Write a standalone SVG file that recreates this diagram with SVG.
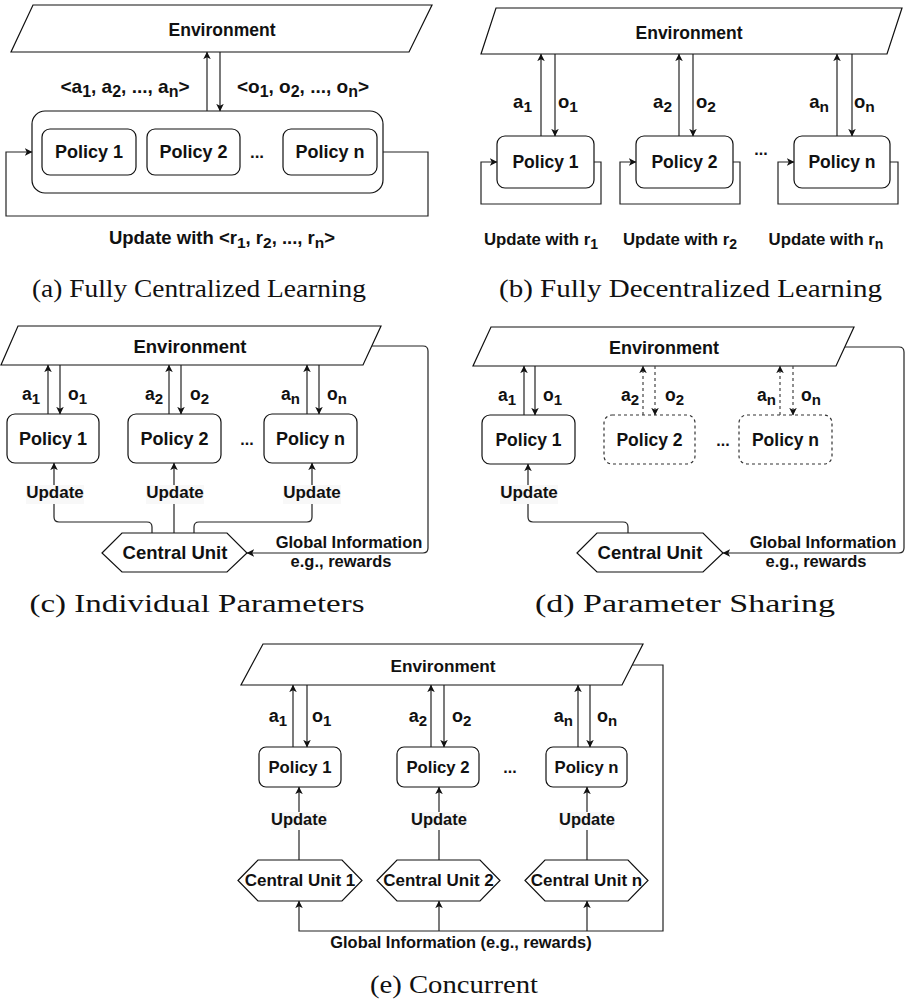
<svg xmlns="http://www.w3.org/2000/svg" width="912" height="1001" viewBox="0 0 912 1001">
<defs>
<marker id="arr" viewBox="0 0 10 10" refX="9.5" refY="5" markerWidth="8" markerHeight="7.5" markerUnits="userSpaceOnUse" orient="auto">
<path d="M0,0 L10,5 L0,10 L2.5,5 z" fill="#111"/>
</marker>
<style>
.shape{fill:#fff;stroke:#111;stroke-width:1.2}
.dash{fill:#fff;stroke:#333;stroke-width:1.2;stroke-dasharray:3 3}
.ln{fill:none;stroke:#222;stroke-width:1.2}
.dl{fill:none;stroke:#444;stroke-width:1.2;stroke-dasharray:3 3}
.t{font-family:"Liberation Sans",Arial,sans-serif;font-weight:bold;fill:#111;text-anchor:middle}
.tl{font-family:"Liberation Sans",Arial,sans-serif;font-weight:bold;fill:#111}
.cap{font-family:"Liberation Serif","Times New Roman",serif;fill:#111;text-anchor:middle;font-size:25px}
.bg{fill:#f8f8f8}
</style>
</defs>
<rect width="912" height="1001" fill="#fff"/>

<!-- ===== Panel (a) ===== -->
<g id="a-env"><polygon class="shape" points="33,5 432,5 409,52 11,52"/><text class="t" x="222" y="36" font-size="17.5">Environment</text></g>
<g id="a-group"><rect class="shape" x="32" y="111" width="351" height="82" rx="13"/></g>
<g id="a-p1"><rect class="shape" x="42" y="129" width="94" height="46" rx="8"/><text class="t" x="89" y="158" font-size="18">Policy 1</text></g>
<g id="a-p2"><rect class="shape" x="147" y="129" width="93" height="46" rx="8"/><text class="t" x="193.5" y="158" font-size="18">Policy 2</text></g>
<text class="t" x="257" y="158" font-size="17">...</text>
<g id="a-pn"><rect class="shape" x="283" y="129" width="94" height="46" rx="8"/><text class="t" x="330" y="158" font-size="18">Policy n</text></g>
<g id="a-conn">
<line class="ln" x1="207" y1="111" x2="207" y2="52" marker-end="url(#arr)"/>
<line class="ln" x1="220" y1="52" x2="220" y2="111" marker-end="url(#arr)"/>
<path class="ln" d="M383,152 H428 V216 H6 V152 H32" marker-end="url(#arr)"/>
</g>
<text class="t" x="125" y="93" font-size="19">&lt;a<tspan font-size="16" dy="3.5">1</tspan><tspan dy="-3.5">, a</tspan><tspan font-size="16" dy="3.5">2</tspan><tspan dy="-3.5">, ..., a</tspan><tspan font-size="16" dy="3.5">n</tspan><tspan dy="-3.5">&gt;</tspan></text>
<text class="t" x="303" y="93" font-size="19">&lt;o<tspan font-size="16" dy="3.5">1</tspan><tspan dy="-3.5">, o</tspan><tspan font-size="16" dy="3.5">2</tspan><tspan dy="-3.5">, ..., o</tspan><tspan font-size="16" dy="3.5">n</tspan><tspan dy="-3.5">&gt;</tspan></text>
<text class="t" x="222" y="244" font-size="18.5">Update with &lt;r<tspan font-size="15.5" dy="3.5">1</tspan><tspan dy="-3.5">, r</tspan><tspan font-size="15.5" dy="3.5">2</tspan><tspan dy="-3.5">, ..., r</tspan><tspan font-size="15.5" dy="3.5">n</tspan><tspan dy="-3.5">&gt;</tspan></text>
<text class="cap" x="199" y="297" textLength="334" lengthAdjust="spacingAndGlyphs">(a) Fully Centralized Learning</text>

<!-- ===== Panel (b) ===== -->
<g id="b-env"><polygon class="shape" points="496,8 902,8 887,54 481,54"/><text class="t" x="689" y="39" font-size="17.5">Environment</text></g>
<g id="b-p1"><rect class="shape" x="497" y="136" width="97" height="52" rx="8"/><text class="t" x="545.5" y="168" font-size="17.5">Policy 1</text></g>
<g id="b-p2"><rect class="shape" x="636" y="136" width="97" height="52" rx="8"/><text class="t" x="684.5" y="168" font-size="17.5">Policy 2</text></g>
<text class="t" x="761" y="155" font-size="16">...</text>
<g id="b-pn"><rect class="shape" x="794" y="136" width="96" height="52" rx="8"/><text class="t" x="842" y="168" font-size="17.5">Policy n</text></g>
<g id="b-conn">
<line class="ln" x1="541" y1="136" x2="541" y2="54" marker-end="url(#arr)"/>
<line class="ln" x1="555" y1="54" x2="555" y2="136" marker-end="url(#arr)"/>
<line class="ln" x1="679" y1="136" x2="679" y2="54" marker-end="url(#arr)"/>
<line class="ln" x1="693" y1="54" x2="693" y2="136" marker-end="url(#arr)"/>
<line class="ln" x1="837" y1="136" x2="837" y2="54" marker-end="url(#arr)"/>
<line class="ln" x1="852" y1="54" x2="852" y2="136" marker-end="url(#arr)"/>
<path class="ln" d="M594,162 H601 V204 H481 V162 H497" marker-end="url(#arr)"/>
<path class="ln" d="M733,162 H740 V204 H620 V162 H636" marker-end="url(#arr)"/>
<path class="ln" d="M890,162 H898 V204 H778 V162 H794" marker-end="url(#arr)"/>
</g>
<text class="tl" x="532" y="108" font-size="18.5" text-anchor="end">a<tspan font-size="15.5" dy="3.5">1</tspan></text>
<text class="tl" x="558" y="108" font-size="18.5">o<tspan font-size="15.5" dy="3.5">1</tspan></text>
<text class="tl" x="672" y="108" font-size="18.5" text-anchor="end">a<tspan font-size="15.5" dy="3.5">2</tspan></text>
<text class="tl" x="696" y="108" font-size="18.5">o<tspan font-size="15.5" dy="3.5">2</tspan></text>
<text class="tl" x="829" y="108" font-size="18.5" text-anchor="end">a<tspan font-size="15.5" dy="3.5">n</tspan></text>
<text class="tl" x="854" y="108" font-size="18.5">o<tspan font-size="15.5" dy="3.5">n</tspan></text>
<text class="t" x="541" y="245" font-size="16.8">Update with r<tspan font-size="14" dy="3.5">1</tspan></text>
<text class="t" x="680" y="245" font-size="16.8">Update with r<tspan font-size="14" dy="3.5">2</tspan></text>
<text class="t" x="826" y="245" font-size="16.8">Update with r<tspan font-size="14" dy="3.5">n</tspan></text>
<text class="cap" x="690.5" y="297" textLength="383" lengthAdjust="spacingAndGlyphs">(b) Fully Decentralized Learning</text>

<!-- ===== Panel (c) ===== -->
<g id="c-env"><polygon class="shape" points="18,326 381,326 363,365 1,365"/><text class="t" x="190" y="353" font-size="18.5">Environment</text></g>
<g id="c-p1"><rect class="shape" x="7" y="414" width="92" height="49" rx="8"/><text class="t" x="53" y="445" font-size="18">Policy 1</text></g>
<g id="c-p2"><rect class="shape" x="128" y="414" width="93" height="49" rx="8"/><text class="t" x="174.5" y="445" font-size="18">Policy 2</text></g>
<text class="t" x="247" y="445" font-size="16">...</text>
<g id="c-pn"><rect class="shape" x="264" y="414" width="93" height="49" rx="8"/><text class="t" x="310.5" y="445" font-size="18">Policy n</text></g>
<g id="c-cu"><polygon class="shape" points="102,553 122,533 227,533 247,553 227,572 122,572"/><text class="t" x="175" y="559" font-size="18.5">Central Unit</text></g>
<g id="c-conn">
<line class="ln" x1="48" y1="414" x2="48" y2="365" marker-end="url(#arr)"/>
<line class="ln" x1="60" y1="365" x2="60" y2="414" marker-end="url(#arr)"/>
<line class="ln" x1="169" y1="414" x2="169" y2="365" marker-end="url(#arr)"/>
<line class="ln" x1="181" y1="365" x2="181" y2="414" marker-end="url(#arr)"/>
<line class="ln" x1="307" y1="414" x2="307" y2="365" marker-end="url(#arr)"/>
<line class="ln" x1="319" y1="365" x2="319" y2="414" marker-end="url(#arr)"/>
<path class="ln" d="M152,533 V527 Q152,522 147,522 H59 Q54,522 54,517 V463" marker-end="url(#arr)"/>
<line class="ln" x1="174" y1="533" x2="174" y2="463" marker-end="url(#arr)"/>
<path class="ln" d="M194,533 V527 Q194,522 199,522 H307 Q312,522 312,517 V463" marker-end="url(#arr)"/>
<path class="ln" d="M372,346 H423 Q428,346 428,351 V548 Q428,553 423,553 H247" marker-end="url(#arr)"/>
</g>
<rect class="bg" x="26" y="485" width="58" height="19"/><text class="t" x="55" y="498" font-size="17">Update</text>
<rect class="bg" x="146" y="485" width="58" height="19"/><text class="t" x="175" y="498" font-size="17">Update</text>
<rect class="bg" x="283" y="485" width="58" height="19"/><text class="t" x="312" y="498" font-size="17">Update</text>
<text class="tl" x="40" y="400" font-size="17.5" text-anchor="end">a<tspan font-size="15" dy="3.5">1</tspan></text>
<text class="tl" x="68" y="400" font-size="17.5">o<tspan font-size="15" dy="3.5">1</tspan></text>
<text class="tl" x="163" y="400" font-size="17.5" text-anchor="end">a<tspan font-size="15" dy="3.5">2</tspan></text>
<text class="tl" x="190" y="400" font-size="17.5">o<tspan font-size="15" dy="3.5">2</tspan></text>
<text class="tl" x="300" y="400" font-size="17.5" text-anchor="end">a<tspan font-size="15" dy="3.5">n</tspan></text>
<text class="tl" x="327" y="400" font-size="17.5">o<tspan font-size="15" dy="3.5">n</tspan></text>
<text class="t" x="349" y="548" font-size="16.5">Global Information</text>
<text class="t" x="341" y="567" font-size="16.5">e.g., rewards</text>
<text class="cap" x="197" y="612" textLength="335" lengthAdjust="spacingAndGlyphs">(c) Individual Parameters</text>

<!-- ===== Panel (d) ===== -->
<g id="d-env"><polygon class="shape" points="491,327 854,327 836,366 473,366"/><text class="t" x="664" y="354" font-size="18">Environment</text></g>
<g id="d-p1"><rect class="shape" x="482" y="415" width="93" height="49" rx="8"/><text class="t" x="528.5" y="446" font-size="17.5">Policy 1</text></g>
<g id="d-p2"><rect class="dash" x="604" y="415" width="91" height="49" rx="8"/><text class="t" x="649.5" y="446" font-size="17.5">Policy 2</text></g>
<text class="t" x="723" y="446" font-size="16">...</text>
<g id="d-pn"><rect class="dash" x="739" y="415" width="93" height="49" rx="8"/><text class="t" x="785.5" y="446" font-size="17.5">Policy n</text></g>
<g id="d-cu"><polygon class="shape" points="577,553 597,533 703,533 723,553 703,572 597,572"/><text class="t" x="650" y="559" font-size="18.5">Central Unit</text></g>
<g id="d-conn">
<line class="ln" x1="524" y1="415" x2="524" y2="366" marker-end="url(#arr)"/>
<line class="ln" x1="535" y1="366" x2="535" y2="415" marker-end="url(#arr)"/>
<line class="dl" x1="643" y1="415" x2="643" y2="366" marker-end="url(#arr)"/>
<line class="dl" x1="655" y1="366" x2="655" y2="415" marker-end="url(#arr)"/>
<line class="dl" x1="780" y1="415" x2="780" y2="366" marker-end="url(#arr)"/>
<line class="dl" x1="793" y1="366" x2="793" y2="415" marker-end="url(#arr)"/>
<path class="ln" d="M628,533 V527 Q628,522 623,522 H533 Q528,522 528,517 V464" marker-end="url(#arr)"/>
<path class="ln" d="M845,347 H899 Q904,347 904,352 V548 Q904,553 899,553 H723" marker-end="url(#arr)"/>
</g>
<rect class="bg" x="500" y="485" width="58" height="19"/><text class="t" x="529" y="498" font-size="17">Update</text>
<text class="tl" x="516" y="401" font-size="17.5" text-anchor="end">a<tspan font-size="15" dy="3.5">1</tspan></text>
<text class="tl" x="543" y="401" font-size="17.5">o<tspan font-size="15" dy="3.5">1</tspan></text>
<text class="tl" x="639" y="401" font-size="17.5" text-anchor="end">a<tspan font-size="15" dy="3.5">2</tspan></text>
<text class="tl" x="665" y="401" font-size="17.5">o<tspan font-size="15" dy="3.5">2</tspan></text>
<text class="tl" x="776" y="401" font-size="17.5" text-anchor="end">a<tspan font-size="15" dy="3.5">n</tspan></text>
<text class="tl" x="801" y="401" font-size="17.5">o<tspan font-size="15" dy="3.5">n</tspan></text>
<text class="t" x="823" y="548" font-size="16.5">Global Information</text>
<text class="t" x="816" y="567" font-size="16.5">e.g., rewards</text>
<text class="cap" x="685" y="612" textLength="300" lengthAdjust="spacingAndGlyphs">(d) Parameter Sharing</text>

<!-- ===== Panel (e) ===== -->
<g id="e-env"><polygon class="shape" points="263,644 643,644 622,685 241,685"/><text class="t" x="443" y="672" font-size="17.2">Environment</text></g>
<g id="e-p1"><rect class="shape" x="259" y="747" width="82" height="40" rx="7"/><text class="t" x="300" y="773" font-size="16.7">Policy 1</text></g>
<g id="e-p2"><rect class="shape" x="397" y="747" width="82" height="40" rx="7"/><text class="t" x="438" y="773" font-size="16.7">Policy 2</text></g>
<text class="t" x="510" y="773" font-size="16">...</text>
<g id="e-pn"><rect class="shape" x="546" y="747" width="81" height="40" rx="7"/><text class="t" x="586.5" y="773" font-size="16.7">Policy n</text></g>
<g id="e-cu1"><polygon class="shape" points="238,880.5 258,860 342,860 362,880.5 342,901 258,901"/><text class="t" x="300" y="886" font-size="17">Central Unit 1</text></g>
<g id="e-cu2"><polygon class="shape" points="377,880.5 397,860 480,860 500,880.5 480,901 397,901"/><text class="t" x="438.5" y="886" font-size="17">Central Unit 2</text></g>
<g id="e-cun"><polygon class="shape" points="525,880.5 545,860 628,860 648,880.5 628,901 545,901"/><text class="t" x="586.5" y="886" font-size="17">Central Unit n</text></g>
<g id="e-conn">
<line class="ln" x1="293" y1="747" x2="293" y2="685" marker-end="url(#arr)"/>
<line class="ln" x1="307" y1="685" x2="307" y2="747" marker-end="url(#arr)"/>
<line class="ln" x1="431" y1="747" x2="431" y2="685" marker-end="url(#arr)"/>
<line class="ln" x1="444" y1="685" x2="444" y2="747" marker-end="url(#arr)"/>
<line class="ln" x1="578" y1="747" x2="578" y2="685" marker-end="url(#arr)"/>
<line class="ln" x1="590" y1="685" x2="590" y2="747" marker-end="url(#arr)"/>
<line class="ln" x1="299" y1="860" x2="299" y2="787" marker-end="url(#arr)"/>
<line class="ln" x1="439" y1="860" x2="439" y2="787" marker-end="url(#arr)"/>
<line class="ln" x1="587" y1="860" x2="587" y2="787" marker-end="url(#arr)"/>
<path class="ln" d="M632,665 H663 V931 H299 V901" marker-end="url(#arr)"/>
<line class="ln" x1="439" y1="931" x2="439" y2="901" marker-end="url(#arr)"/>
<line class="ln" x1="587" y1="931" x2="587" y2="901" marker-end="url(#arr)"/>
</g>
<rect class="bg" x="271" y="812" width="56" height="18"/><text class="t" x="299" y="825" font-size="16.5">Update</text>
<rect class="bg" x="411" y="812" width="56" height="18"/><text class="t" x="439" y="825" font-size="16.5">Update</text>
<rect class="bg" x="559" y="812" width="56" height="18"/><text class="t" x="587" y="825" font-size="16.5">Update</text>
<text class="tl" x="287" y="722" font-size="18" text-anchor="end">a<tspan font-size="15" dy="3.5">1</tspan></text>
<text class="tl" x="312" y="722" font-size="18">o<tspan font-size="15" dy="3.5">1</tspan></text>
<text class="tl" x="427" y="722" font-size="18" text-anchor="end">a<tspan font-size="15" dy="3.5">2</tspan></text>
<text class="tl" x="452" y="722" font-size="18">o<tspan font-size="15" dy="3.5">2</tspan></text>
<text class="tl" x="573" y="722" font-size="18" text-anchor="end">a<tspan font-size="15" dy="3.5">n</tspan></text>
<text class="tl" x="597" y="722" font-size="18">o<tspan font-size="15" dy="3.5">n</tspan></text>
<text class="t" x="461" y="948" font-size="16.4">Global Information (e.g., rewards)</text>
<text class="cap" x="454" y="993" textLength="168" lengthAdjust="spacingAndGlyphs">(e) Concurrent</text>
</svg>
